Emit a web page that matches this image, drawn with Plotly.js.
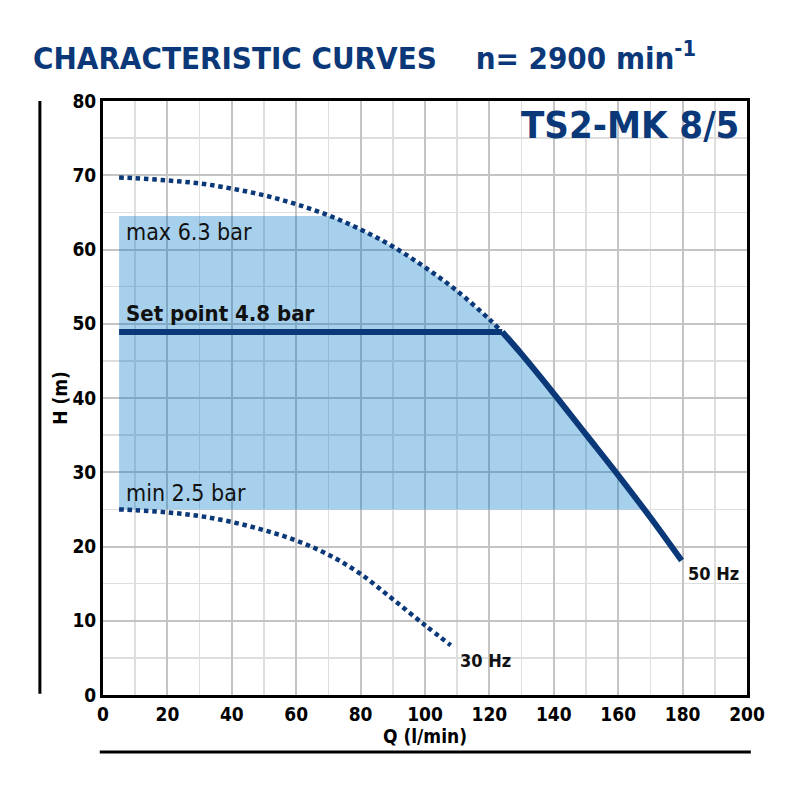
<!DOCTYPE html>
<html>
<head>
<meta charset="utf-8">
<script src="https://cdn.plot.ly/plotly-3.0.1.min.js"></script>
<style>
  html, body { margin: 0; padding: 0; background: #fff; }
  #myDiv { width: 800px; height: 800px; }
  #myDiv text { font-stretch: condensed; }
</style>
</head>
<body>
<div id="myDiv"></div>
<script>
// 50 Hz curve, dotted part (above the set point)
const q50Dot = [5, 10, 20, 30, 40, 50, 60, 70, 80, 90, 100, 110, 120, 123];
const h50Dot = [69.7, 69.6, 69.3, 68.9, 68.2, 67.3, 66.1, 64.6, 62.7, 60.4, 57.6, 54.4, 50.6, 49.3];

// set point line
const qSet = [5, 124];
const hSet = [48.9, 48.9];

// 50 Hz solid part (below the set point)
const q50 = [124, 130, 140, 150, 160, 170, 179.7];
const h50 = [48.9, 45.9, 40.6, 35.1, 29.6, 23.9, 18.1];

// 30 Hz curve
const q30 = [5, 10, 20, 30, 40, 50, 60, 70, 80, 90, 100, 108];
const h30 = [25, 24.9, 24.6, 24.1, 23.3, 22.2, 20.8, 18.9, 16.3, 12.9, 9.4, 6.7];

// pressure window (max 6.3 bar / min 2.5 bar)
const boxLeft = 5;
const boxTop = 64.5;
const boxBottom = 25;

const fontC = '"Liberation Sans Narrow", "DejaVu Sans Condensed", "DejaVu Sans", sans-serif';
const darkBlue = '#0b3878';

// top edge of the shaded area: combined 50 Hz curve cut by the box
var curveQ = q50Dot.concat(q50);
var curveH = h50Dot.concat(h50);
var fillQ = [boxLeft, boxLeft];
var fillH = [boxBottom, boxTop];
for (var i = 0; i < curveQ.length; i++) {
  var h = curveH[i];
  if (i > 0) {
    var h0 = curveH[i - 1], q0 = curveQ[i - 1];
    if (h0 > boxTop && h <= boxTop) {
      fillQ.push(q0 + (curveQ[i] - q0) * (h0 - boxTop) / (h0 - h));
      fillH.push(boxTop);
    }
    if (h0 > boxBottom && h <= boxBottom) {
      fillQ.push(q0 + (curveQ[i] - q0) * (h0 - boxBottom) / (h0 - h));
      fillH.push(boxBottom);
      break;
    }
  }
  if (h <= boxTop && h > boxBottom) {
    fillQ.push(curveQ[i]);
    fillH.push(h);
  }
}
fillQ.push(boxLeft);
fillH.push(boxBottom);

var traces = [
  {x: fillQ, y: fillH, type: 'scatter', mode: 'lines', fill: 'toself',
   fillcolor: 'rgba(0,120,200,0.35)', line: {width: 0}, hoverinfo: 'skip'},
  {x: q50Dot, y: h50Dot, type: 'scatter', mode: 'lines',
   line: {color: darkBlue, width: 4.5, dash: '4.5px,3.8px', shape: 'spline'}},
  {x: q30, y: h30, type: 'scatter', mode: 'lines',
   line: {color: darkBlue, width: 4.5, dash: '4.5px,3.8px', shape: 'spline'}},
  {x: qSet, y: hSet, type: 'scatter', mode: 'lines',
   line: {color: darkBlue, width: 6}},
  {x: q50, y: h50, type: 'scatter', mode: 'lines',
   line: {color: darkBlue, width: 6, shape: 'spline'}}
];

var axisCommon = {
  showline: true, linecolor: '#000', linewidth: 3, mirror: true,
  zeroline: false, ticks: '', fixedrange: true,
  gridcolor: '#c4c4c4', gridwidth: 2,
  tickfont: {family: fontC, size: 19, color: '#000', weight: 'bold'}
};

var layout = {
  width: 800, height: 800,
  margin: {l: 103, r: 53, t: 101, b: 105},
  paper_bgcolor: '#fff', plot_bgcolor: '#fff',
  showlegend: false,
  title: {
    text: 'CHARACTERISTIC CURVES\u00A0\u00A0\u00A0 n= 2900 min<sup>-1</sup>',
    font: {family: fontC, size: 31, color: darkBlue, weight: 'bold'},
    xref: 'container', x: 33 / 800, xanchor: 'left',
    yref: 'container', y: 1 - 58 / 800, yanchor: 'middle'
  },
  xaxis: Object.assign({}, axisCommon, {
    range: [0, 200], dtick: 20,
    minor: {dtick: 10, showgrid: true, gridcolor: '#dedede', gridwidth: 1.5},
    title: {text: 'Q (l/min)', standoff: 6,
            font: {family: fontC, size: 19, color: '#000', weight: 'bold'}}
  }),
  yaxis: Object.assign({}, axisCommon, {
    range: [0, 80], dtick: 10,
    minor: {dtick: 5, showgrid: true, gridcolor: '#dedede', gridwidth: 1.5},
    title: {text: 'H (m)', standoff: 0,
            font: {family: fontC, size: 19, color: '#000', weight: 'bold'}}
  }),
  shapes: [
    {type: 'line', xref: 'paper', yref: 'paper', x0: -0.098, x1: -0.098, y0: 0.002, y1: 1.0,
     line: {color: '#000', width: 3}},
    {type: 'line', xref: 'paper', yref: 'paper', x0: -0.005, x1: 1.006, y0: -0.096, y1: -0.096,
     line: {color: '#000', width: 3}}
  ],
  annotations: [
    {text: 'TS2-MK 8/5', xref: 'paper', yref: 'paper', x: 1, y: 0.96, xshift: -6,
     xanchor: 'right', yanchor: 'middle', showarrow: false,
     font: {family: fontC, size: 38, color: darkBlue, weight: 'bold'}},
    {text: 'max 6.3 bar', x: 6.5, y: 62.4, xanchor: 'left', yanchor: 'middle', showarrow: false,
     font: {family: fontC, size: 23, color: '#111'}},
    {text: 'Set point 4.8 bar', x: 6.5, y: 51.4, xanchor: 'left', yanchor: 'middle', showarrow: false,
     font: {family: fontC, size: 22, color: '#111', weight: 'bold'}},
    {text: 'min 2.5 bar', x: 6.5, y: 27.2, xanchor: 'left', yanchor: 'middle', showarrow: false,
     font: {family: fontC, size: 23, color: '#111'}},
    {text: '50 Hz', x: 181, y: 16.4, xanchor: 'left', yanchor: 'middle', showarrow: false,
     font: {family: fontC, size: 18, color: '#111', weight: 'bold'}},
    {text: '30 Hz', x: 110.2, y: 4.7, xanchor: 'left', yanchor: 'middle', showarrow: false,
     font: {family: fontC, size: 18, color: '#111', weight: 'bold'}}
  ]
};

Plotly.newPlot('myDiv', traces, layout, {displayModeBar: false, staticPlot: true});
</script>
</body>
</html>
